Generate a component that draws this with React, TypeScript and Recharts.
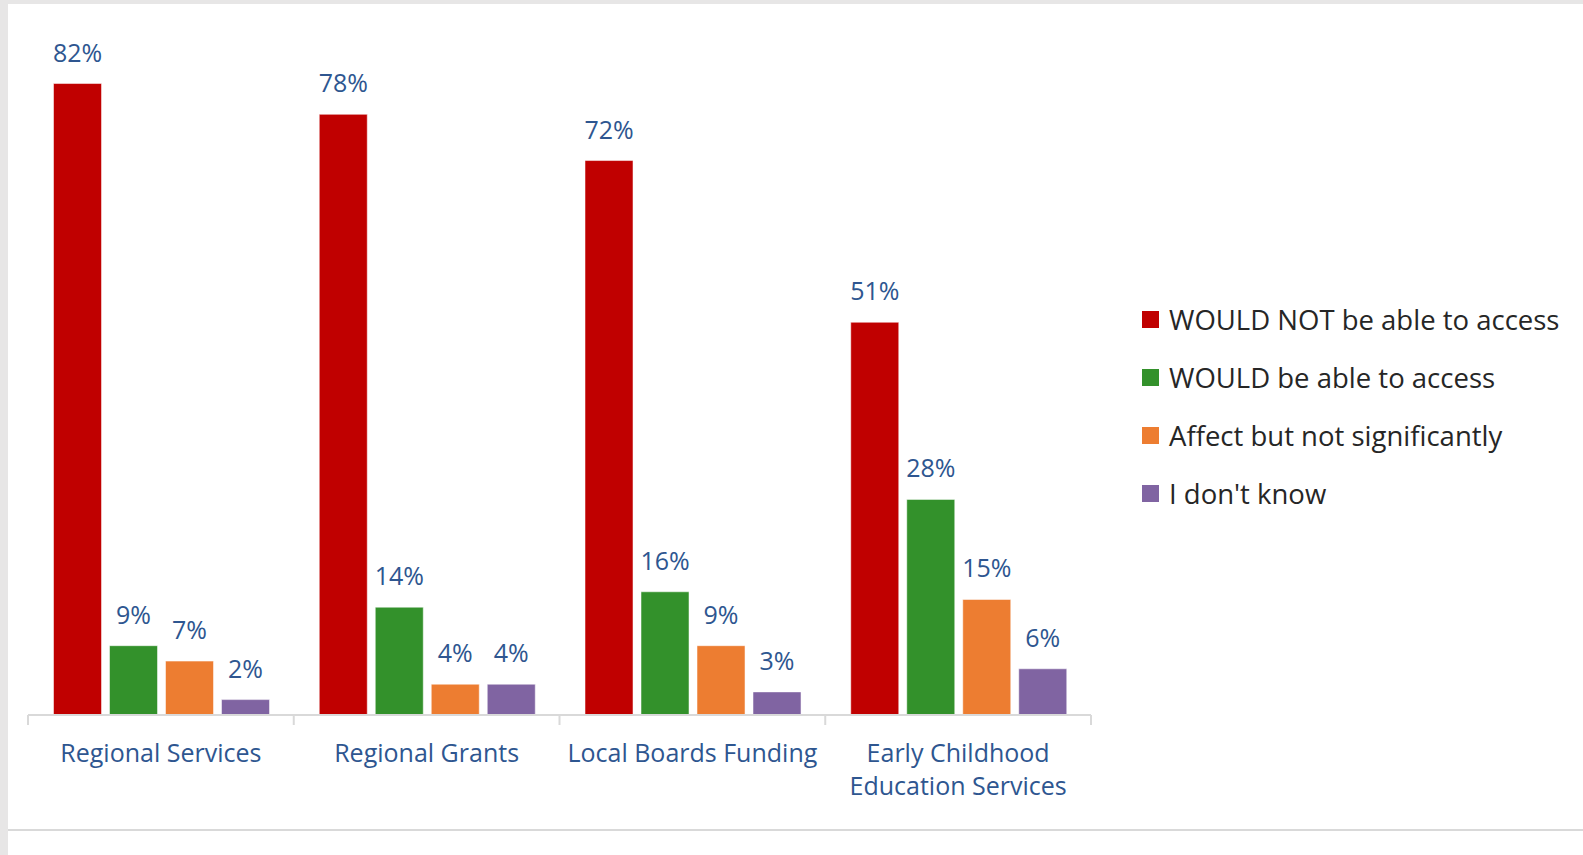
import React from 'react';
import { BarChart, Bar, XAxis, YAxis, Legend, LabelList } from 'recharts';

// categories and values (percent)
const categories = ['Regional Services', 'Regional Grants', 'Local Boards Funding', 'Early Childhood\nEducation Services'];
const wouldNot = [82, 78, 72, 51];
const would = [9, 14, 16, 28];
const affect = [7, 4, 9, 15];
const dontKnow = [2, 4, 3, 6];

const seriesNames = ['WOULD NOT be able to access', 'WOULD be able to access', 'Affect but not significantly', "I don't know"];
const seriesColors = ['#C00000', '#33912B', '#ED7D31', '#8064A2'];

const data = categories.map((name, i) => ({
  name,
  wouldNot: wouldNot[i],
  would: would[i],
  affect: affect[i],
  dontKnow: dontKnow[i],
}));

const FONT = '"Open Sans", sans-serif';
const LABEL_BLUE = '#2E5690';
const PLOT_W = 1063;
const BAND = PLOT_W / categories.length;

const CategoryTick = (props: any) => {
  const { x, y, payload, index } = props;
  const lines = String(payload.value).split('\n');
  const axisY = y - 8;
  return (
    <g>
      <line x1={x - BAND / 2} x2={x - BAND / 2} y1={axisY} y2={axisY + 10} stroke="#D9D9D9" strokeWidth={2} />
      {index === categories.length - 1 && (
        <line x1={x + BAND / 2} x2={x + BAND / 2} y1={axisY} y2={axisY + 10} stroke="#D9D9D9" strokeWidth={2} />
      )}
      <text x={x} y={axisY + 47} textAnchor="middle" fill={LABEL_BLUE} fontSize={25} fontFamily={FONT}>
        {lines.map((l, i) => (
          <tspan key={i} x={x} dy={i === 0 ? 0 : 33}>{l}</tspan>
        ))}
      </text>
    </g>
  );
};

const LegendContent = (props: any) => {
  const payload = [...(props.payload || [])].sort(
    (a: any, b: any) => seriesNames.indexOf(a.value) - seriesNames.indexOf(b.value)
  );
  return (
    <div>
      {payload.map((entry: any, i: number) => (
        <div key={i} style={{ display: 'flex', alignItems: 'center', height: 58, fontFamily: FONT, fontSize: 27.5, color: '#262626', whiteSpace: 'nowrap' }}>
          <span style={{ width: 17, height: 17, background: entry.color, marginRight: 10, display: 'inline-block' }} />
          <span>{entry.value}</span>
        </div>
      ))}
    </div>
  );
};

export default function App() {
  return (
    <div style={{ position: 'fixed', left: 0, top: 0, width: 1583, height: 855, background: '#E7E6E6' }}>
      <div style={{ position: 'absolute', left: 8, top: 4, width: 1575, height: 851, background: '#FFFFFF' }}>
        <div style={{ position: 'absolute', left: 0, top: 825, width: 1575, height: 2, background: '#D9D9D9' }} />
        <BarChart
          width={1575}
          height={826}
          data={data}
          margin={{ top: 21, right: 52, left: 20, bottom: 35 }}
          barCategoryGap="9.6%"
          barGap={8}
        >
          <XAxis
            dataKey="name"
            axisLine={{ stroke: '#D9D9D9', strokeWidth: 2 }}
            tickLine={false}
            tick={<CategoryTick />}
            interval={0}
            height={80}
          />
          <YAxis hide domain={[0, 89.6]} />
          <Legend
            layout="vertical"
            align="right"
            verticalAlign="top"
            content={<LegendContent />}
            wrapperStyle={{ left: 1134, top: 286, width: 440 }}
          />
          {[wouldNot, would, affect, dontKnow].map((_, si) => {
            const key = ['wouldNot', 'would', 'affect', 'dontKnow'][si];
            return (
              <Bar key={key} dataKey={key} name={seriesNames[si]} fill={seriesColors[si]} stroke="#FFFFFF" strokeOpacity={0.5} isAnimationActive={false}>
                <LabelList
                  dataKey={key}
                  position="top"
                  offset={22}
                  formatter={(v: any) => `${v}%`}
                  fill={LABEL_BLUE}
                  fontSize={25}
                  fontFamily={FONT}
                />
              </Bar>
            );
          })}
        </BarChart>
      </div>
    </div>
  );
}
